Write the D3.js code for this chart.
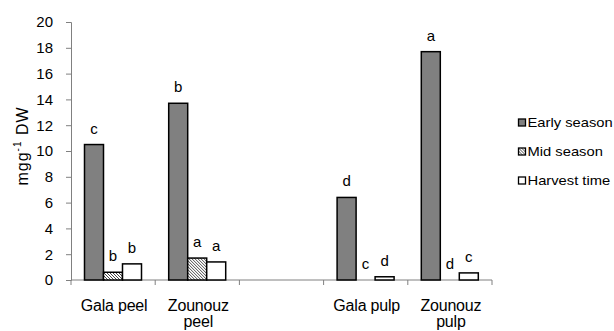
<!DOCTYPE html>
<html>
<head>
<meta charset="utf-8">
<script src="https://cdn.jsdelivr.net/npm/d3@7"></script>
<style>
  body { margin: 0; background: #fff; }
  svg { display: block; font-family: "Liberation Sans", Arial, sans-serif; }
</style>
</head>
<body>
<div id="container"></div>
<script>
const width = 614;
const height = 331;

// data
const categories = ["Gala peel", "Zounouz peel", "", "Gala pulp", "Zounouz pulp"];
const catLines = [["Gala peel"], ["Zounouz", "peel"], [], ["Gala pulp"], ["Zounouz", "pulp"]];
const seriesNames = ["Early season", "Mid season", "Harvest time"];
const earlySeason = [10.5, 13.7, null, 6.4, 17.7];
const midSeason = [0.6, 1.7, null, 0, 0];
const harvestTime = [1.25, 1.4, null, 0.25, 0.55];
const earlyLetters = ["c", "b", null, "d", "a"];
const midLetters = ["b", "a", null, "c", "d"];
const harvestLetters = ["b", "a", null, "d", "c"];
const yTicks = [0, 2, 4, 6, 8, 10, 12, 14, 16, 18, 20];

const seriesValues = [earlySeason, midSeason, harvestTime];
const seriesLetters = [earlyLetters, midLetters, harvestLetters];

const svg = d3.select("#container").append("svg")
  .attr("width", width)
  .attr("height", height);

// hatch pattern for mid season
const defs = svg.append("defs");
const pat = defs.append("pattern")
  .attr("id", "hatch")
  .attr("patternUnits", "userSpaceOnUse")
  .attr("width", 3)
  .attr("height", 3);
pat.append("rect").attr("width", 3).attr("height", 3).attr("fill", "#fff");
pat.append("path")
  .attr("d", "M-1,-1 L4,4 M-1,2 L1,4 M2,-1 L4,1")
  .attr("stroke", "#333")
  .attr("stroke-width", 0.9);

const fills = ["#808080", "url(#hatch)", "#fff"];

//----------------------------SCALES----------------------------//
const x = d3.scaleBand().domain(d3.range(categories.length)).range([71, 492]);
const xs = d3.scaleBand().domain(d3.range(seriesNames.length))
  .range([13.5, 70.5]);
const y = d3.scaleLinear().domain([0, 20]).range([280, 22]);

//-----------------------------AXES-----------------------------//
const yAxis = svg.append("g")
  .attr("transform", "translate(71,0)")
  .call(d3.axisLeft(y).tickValues(yTicks).tickSize(5).tickPadding(13).tickFormat(d3.format("d")));
yAxis.select(".domain").attr("stroke", "#808080");
yAxis.selectAll(".tick line").attr("stroke", "#808080");
yAxis.selectAll("text").attr("font-size", 15).attr("fill", "#000")
  .attr("font-family", "Liberation Sans, Arial, sans-serif");

const xAxis = svg.append("g")
  .attr("transform", "translate(0,280)")
  .call(d3.axisBottom(x).tickValues([]).tickSizeOuter(0));
xAxis.select(".domain").attr("stroke", "#808080").attr("d", "M71,0H492");
xAxis.selectAll(".xt")
  .data(d3.range(categories.length + 1))
  .enter().append("line")
  .attr("class", "xt")
  .attr("x1", i => i < categories.length ? x(i) : x.range()[1])
  .attr("x2", i => i < categories.length ? x(i) : x.range()[1])
  .attr("y1", 0).attr("y2", 5)
  .attr("stroke", "#808080");

// category labels
const cl = svg.append("g").selectAll("text")
  .data(catLines)
  .enter().append("text")
  .attr("x", (d, i) => x(i) + x.bandwidth() / 2 + 1)
  .attr("y", 311)
  .attr("text-anchor", "middle")
  .attr("font-size", 16)
  .attr("letter-spacing", -0.2)
  .attr("fill", "#000");
cl.selectAll("tspan")
  .data(d => d)
  .enter().append("tspan")
  .attr("x", function() { return this.parentNode.getAttribute("x"); })
  .attr("dy", (d, j) => j === 0 ? 0 : 16)
  .text(d => d);

//----------------------------BARS-----------------------------//
const groups = svg.append("g").selectAll("g")
  .data(categories)
  .enter().append("g")
  .attr("transform", (d, i) => "translate(" + x(i) + ",0)");

groups.each(function(c, i) {
  const g = d3.select(this);
  seriesValues.forEach((vals, s) => {
    const v = vals[i];
    if (v === null) return;
    if (v > 0) {
      g.append("rect")
        .attr("x", xs(s))
        .attr("y", y(v))
        .attr("width", xs.bandwidth())
        .attr("height", y(0) - y(v))
        .attr("fill", fills[s])
        .attr("stroke", "#000")
        .attr("stroke-width", 1.5);
    }
    g.append("text")
      .attr("x", xs(s) + xs.bandwidth() / 2)
      .attr("y", y(v) - 11)
      .attr("text-anchor", "middle")
      .attr("font-size", 15)
      .attr("fill", "#000")
      .text(seriesLetters[s][i]);
  });
});

//---------------------------LABELS----------------------------//
svg.append("text")
  .attr("transform", "translate(28,146) rotate(-90)")
  .attr("text-anchor", "middle")
  .attr("font-size", 16)
  .attr("letter-spacing", 1)
  .attr("fill", "#000")
  .html('mgg<tspan font-size="10" dy="-7">-1</tspan><tspan dy="7"> DW</tspan>');

//---------------------------LEGEND----------------------------//
const legend = svg.append("g").selectAll("g")
  .data(seriesNames)
  .enter().append("g")
  .attr("transform", (d, i) => "translate(518.5," + (119 + i * 29) + ")");
legend.append("rect")
  .attr("width", 7).attr("height", 7)
  .attr("fill", (d, i) => fills[i])
  .attr("stroke", "#000")
  .attr("stroke-width", 1.3);
legend.append("text")
  .attr("transform", "translate(9,7.5) scale(1.18,1)")
  .attr("font-size", 12.5)
  .attr("fill", "#000")
  .text(d => d);
</script>
</body>
</html>
